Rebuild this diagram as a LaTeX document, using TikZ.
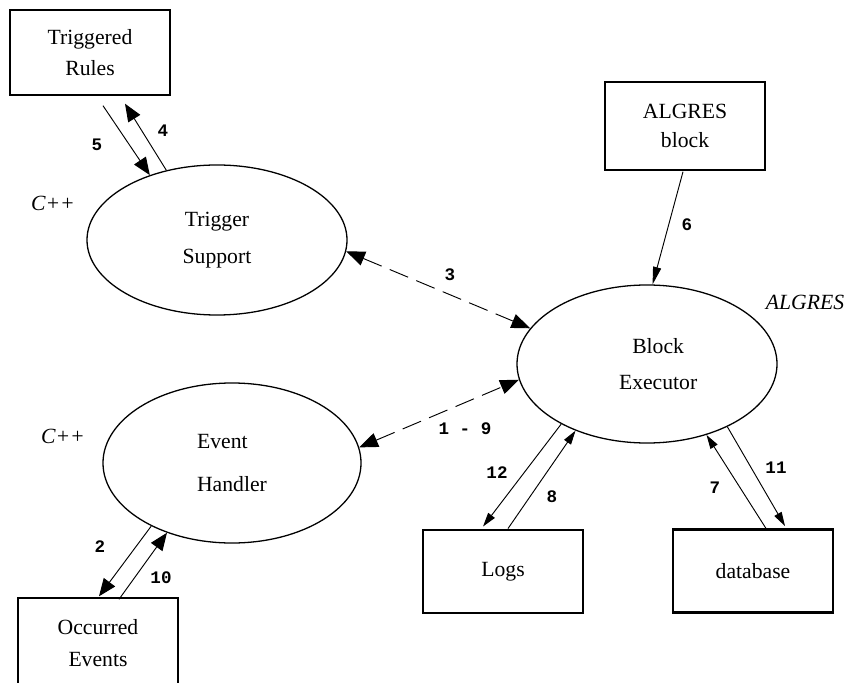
\documentclass[tikz,border=0pt]{standalone}
\usepackage{fontspec}
\setmainfont{Liberation Serif}
\newfontfamily\numfont{Liberation Mono}
\usetikzlibrary{shapes.geometric, arrows.meta, calc}

\tikzset{
    procbox/.style={draw, line width=1.2pt, rectangle, align=center,
        minimum width=4.8cm, minimum height=2.55cm, inner sep=0pt,
        font=\fontsize{18.5}{27}\selectfont},
    storebox/.style={procbox, line width=2.5pt, minimum height=2.49cm},
    procell/.style={draw, line width=1.1pt, ellipse, align=center,
        inner sep=0pt, font=\fontsize{18.5}{31}\selectfont},
    flow/.style={-{Triangle[length=12pt,width=7pt]}, line width=0.8pt},
    bigflow/.style={-{Triangle[length=15pt,width=12pt]}, line width=0.8pt},
    dataflow/.style={{Triangle[length=16pt,width=12.5pt]}-{Triangle[length=16pt,width=12.5pt]},
        line width=0.8pt, dash pattern=on 17pt off 7.5pt},
    numlbl/.style={font=\numfont\bfseries\fontsize{15}{15}\selectfont},
    langlbl/.style={font=\itshape\fontsize{18.5}{20}\selectfont}
}

\begin{document}
\begin{tikzpicture}[x=0.03cm, y=-0.03cm]
    \useasboundingbox (0,0) rectangle (846,683);

    % rule store, ALGRES source and data stores
    \node[procbox] (rules) at (90,52.5) {Triggered\\Rules};
    \node[procbox, minimum height=2.64cm] (algblock) at (685,126)
        {ALGRES\\[-2.3pt]block};
    \node[procbox, minimum height=2.7cm] (occurred) at (98,643)
        {Occurred\\[1pt]Events};
    \node[storebox] (logs) at (503,571.5) {Logs};
    \node[storebox] (db) at (753,571) {database};

    % processes
    \node[procell, minimum width=7.8cm, minimum height=4.5cm] (trig)
        at (217,240) {Trigger\\Support};
    \node[procell, minimum width=7.8cm, minimum height=4.74cm] (exec)
        at (647,364) {\hspace*{19pt}Block\\\hspace*{19pt}Executor};
    \node[procell, minimum width=7.74cm, minimum height=4.8cm, align=left]
        (evh) at (232,463) {Event\\[5pt]Handler};

    % implementation languages
    \node[langlbl] (cppa) at (53,203) {C++};
    \node[langlbl] (cppb) at (63,436) {C++};
    \node[langlbl] (algres) at (805,302) {ALGRES};

    % rule triggering
    \draw[bigflow] ($(rules.south)+(13,10)$) -- (trig.136);
    \draw[bigflow] (trig.126) -- ($(rules.south)+(35,8)$);
    \node[numlbl] (l5) at (97,145) {5};
    \node[numlbl] (l4) at (163,131) {4};

    % exchanges with the executor
    \draw[dataflow] (trig.355) -- (exec.163);
    \draw[dataflow] (evh.7) -- (exec.187);
    \node[numlbl] (l3) at (450,275) {3};
    \node[numlbl] (l19) at (465,429) {1 - 9};

    \draw[flow, -{Triangle[length=15pt,width=7pt]}]
        ($(algblock.south)+(-2,1)$) -- (exec.86);
    \node[numlbl] (l6) at (687,225) {6};

    % events
    \draw[bigflow] (evh.218) -- ($(occurred.north)+(1,-1)$);
    \draw[bigflow] ($(occurred.north)+(21,2)$) -- (evh.227);
    \node[numlbl] (l2) at (100,547) {2};
    \node[numlbl] (l10) at (161,578) {10};

    % logs and database
    \draw[flow] (exec.215) -- ($(logs.north)+(-20,-2)$);
    \draw[flow] ($(logs.north)+(5,0)$) -- (exec.223);
    \draw[flow] ($(db.north)+(14,2)$) -- (exec.310);
    \draw[flow] (exec.322) -- ($(db.north)+(32,-2)$);
    \node[numlbl] (l12) at (497,473) {12};
    \node[numlbl] (l8) at (552,497) {8};
    \node[numlbl] (l7) at (715,488) {7};
    \node[numlbl] (l11) at (776,468) {11};
\end{tikzpicture}
\end{document}
